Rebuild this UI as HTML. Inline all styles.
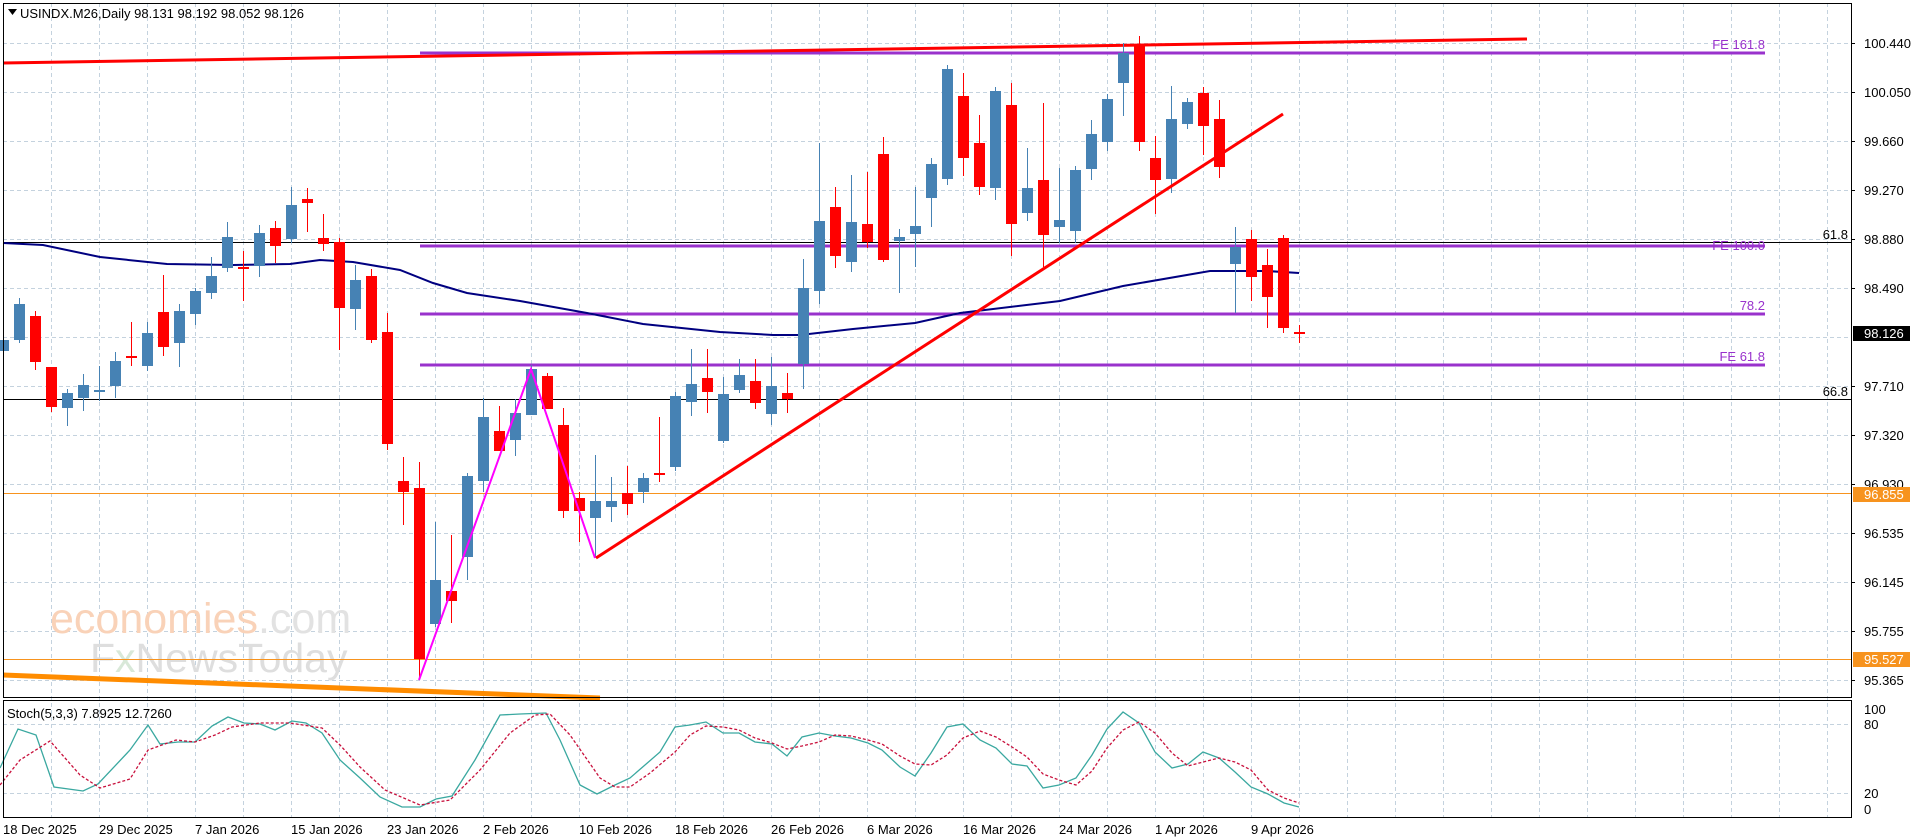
<!DOCTYPE html>
<html><head><meta charset="utf-8"><style>
html,body{margin:0;padding:0;background:#fff;width:1916px;height:840px;overflow:hidden}
svg{display:block;font-family:"Liberation Sans",sans-serif}
.B line{stroke:#4682b4}.B rect{fill:#4682b4}
.R line{stroke:#ff0000}.R rect{fill:#ff0000}
.g{stroke:#c4d2de;stroke-width:1;stroke-dasharray:4,3}
.ax{font-size:13px;fill:#000}
</style></head><body>
<svg width="1916" height="840" viewBox="0 0 1916 840" xmlns="http://www.w3.org/2000/svg">
<rect width="1916" height="840" fill="#fff"/>
<g class="g">
<line x1="3" x2="1851" y1="43.5" y2="43.5"/><line x1="3" x2="1851" y1="92.5" y2="92.5"/><line x1="3" x2="1851" y1="141.5" y2="141.5"/><line x1="3" x2="1851" y1="190.5" y2="190.5"/><line x1="3" x2="1851" y1="239.5" y2="239.5"/><line x1="3" x2="1851" y1="288.5" y2="288.5"/><line x1="3" x2="1851" y1="337.5" y2="337.5"/><line x1="3" x2="1851" y1="386.5" y2="386.5"/><line x1="3" x2="1851" y1="435.5" y2="435.5"/><line x1="3" x2="1851" y1="484.5" y2="484.5"/><line x1="3" x2="1851" y1="533.5" y2="533.5"/><line x1="3" x2="1851" y1="582.5" y2="582.5"/><line x1="3" x2="1851" y1="631.5" y2="631.5"/><line x1="3" x2="1851" y1="680.5" y2="680.5"/>
<line x1="3" x2="1851" y1="724.5" y2="724.5"/><line x1="3" x2="1851" y1="793.5" y2="793.5"/>
</g>
<g class="g">
<line x1="51.5" x2="51.5" y1="3" y2="817"/><line x1="99.5" x2="99.5" y1="3" y2="817"/><line x1="147.5" x2="147.5" y1="3" y2="817"/><line x1="195.5" x2="195.5" y1="3" y2="817"/><line x1="243.5" x2="243.5" y1="3" y2="817"/><line x1="291.5" x2="291.5" y1="3" y2="817"/><line x1="339.5" x2="339.5" y1="3" y2="817"/><line x1="387.5" x2="387.5" y1="3" y2="817"/><line x1="435.5" x2="435.5" y1="3" y2="817"/><line x1="483.5" x2="483.5" y1="3" y2="817"/><line x1="531.5" x2="531.5" y1="3" y2="817"/><line x1="579.5" x2="579.5" y1="3" y2="817"/><line x1="627.5" x2="627.5" y1="3" y2="817"/><line x1="675.5" x2="675.5" y1="3" y2="817"/><line x1="723.5" x2="723.5" y1="3" y2="817"/><line x1="771.5" x2="771.5" y1="3" y2="817"/><line x1="819.5" x2="819.5" y1="3" y2="817"/><line x1="867.5" x2="867.5" y1="3" y2="817"/><line x1="915.5" x2="915.5" y1="3" y2="817"/><line x1="963.5" x2="963.5" y1="3" y2="817"/><line x1="1011.5" x2="1011.5" y1="3" y2="817"/><line x1="1059.5" x2="1059.5" y1="3" y2="817"/><line x1="1107.5" x2="1107.5" y1="3" y2="817"/><line x1="1155.5" x2="1155.5" y1="3" y2="817"/><line x1="1203.5" x2="1203.5" y1="3" y2="817"/><line x1="1251.5" x2="1251.5" y1="3" y2="817"/><line x1="1299.5" x2="1299.5" y1="3" y2="817"/><line x1="1347.5" x2="1347.5" y1="3" y2="817"/><line x1="1395.5" x2="1395.5" y1="3" y2="817"/><line x1="1443.5" x2="1443.5" y1="3" y2="817"/><line x1="1491.5" x2="1491.5" y1="3" y2="817"/><line x1="1539.5" x2="1539.5" y1="3" y2="817"/><line x1="1587.5" x2="1587.5" y1="3" y2="817"/><line x1="1635.5" x2="1635.5" y1="3" y2="817"/><line x1="1683.5" x2="1683.5" y1="3" y2="817"/><line x1="1731.5" x2="1731.5" y1="3" y2="817"/><line x1="1779.5" x2="1779.5" y1="3" y2="817"/><line x1="1827.5" x2="1827.5" y1="3" y2="817"/>
</g>
<text x="50" y="633" font-size="43" fill="#f9d2b8">economies<tspan fill="#e2e2e2">.com</tspan></text>
<text x="90" y="672" font-size="41" fill="#dedede">F<tspan fill="#d8e8d8">x</tspan>NewsToday</text>
<line x1="3" x2="1851" y1="242.5" y2="242.5" stroke="#000" stroke-width="1"/>
<line x1="3" x2="1851" y1="399.5" y2="399.5" stroke="#000" stroke-width="1"/>
<line x1="3" x2="1851" y1="493.5" y2="493.5" stroke="#f7931e" stroke-width="1"/>
<line x1="3" x2="1851" y1="659.5" y2="659.5" stroke="#f7931e" stroke-width="1"/>
<g stroke="#9932cc" stroke-width="3">
<line x1="420" x2="1765" y1="53" y2="53"/><line x1="420" x2="1765" y1="246" y2="246"/><line x1="420" x2="1765" y1="314" y2="314"/><line x1="420" x2="1765" y1="365" y2="365"/>
</g>
<g font-size="13" fill="#9932cc" text-anchor="end">
<text x="1765" y="49">FE 161.8</text><text x="1765" y="250">FE 100.0</text><text x="1765" y="310">78.2</text><text x="1765" y="361">FE 61.8</text>
</g>
<g font-size="13" fill="#000" text-anchor="end"><text x="1848" y="239">61.8</text><text x="1848" y="396">66.8</text></g>
<line x1="3" y1="63" x2="1527" y2="39" stroke="#ff0000" stroke-width="3"/>
<line x1="3" y1="675" x2="600" y2="698" stroke="#ff8c00" stroke-width="5"/>
<polyline fill="none" stroke="#000080" stroke-width="2" points="3,243 43,245 100,257 167,264 233,265 290,264 320,260 353,262 400,270 433,283 467,293 520,301 587,313 643,324 720,332 773,335 800,335 853,329 915,323 960,313 1060,301 1123,286 1210,271 1267,271 1299,273"/>
<g class="B">
<line x1="3.5" x2="3.5" y1="323" y2="375"/><rect x="0" y="340" width="9" height="11"/>
<line x1="19.5" x2="19.5" y1="298" y2="343"/><rect x="14" y="304" width="11" height="36"/>
<line x1="67.5" x2="67.5" y1="389" y2="426"/><rect x="62" y="393" width="11" height="15"/>
<line x1="83.5" x2="83.5" y1="374" y2="411"/><rect x="78" y="385" width="11" height="13"/>
<line x1="99.5" x2="99.5" y1="366" y2="401"/><rect x="94" y="390" width="11" height="2"/>
<line x1="115.5" x2="115.5" y1="352" y2="398"/><rect x="110" y="361" width="11" height="25"/>
<line x1="147.5" x2="147.5" y1="322" y2="371"/><rect x="142" y="333" width="11" height="33"/>
<line x1="179.5" x2="179.5" y1="304" y2="367"/><rect x="174" y="311" width="11" height="32"/>
<line x1="195.5" x2="195.5" y1="288" y2="325"/><rect x="190" y="291" width="11" height="23"/>
<line x1="211.5" x2="211.5" y1="257" y2="299"/><rect x="206" y="276" width="11" height="17"/>
<line x1="227.5" x2="227.5" y1="222" y2="272"/><rect x="222" y="237" width="11" height="31"/>
<line x1="259.5" x2="259.5" y1="225" y2="277"/><rect x="254" y="233" width="11" height="33"/>
<line x1="291.5" x2="291.5" y1="187" y2="243"/><rect x="286" y="205" width="11" height="34"/>
<line x1="355.5" x2="355.5" y1="265" y2="330"/><rect x="350" y="280" width="11" height="29"/>
<line x1="435.5" x2="435.5" y1="522" y2="627"/><rect x="430" y="580" width="11" height="44"/>
<line x1="467.5" x2="467.5" y1="473" y2="580"/><rect x="462" y="476" width="11" height="81"/>
<line x1="483.5" x2="483.5" y1="398" y2="492"/><rect x="478" y="417" width="11" height="64"/>
<line x1="515.5" x2="515.5" y1="399" y2="456"/><rect x="510" y="413" width="11" height="27"/>
<line x1="531.5" x2="531.5" y1="365" y2="415"/><rect x="526" y="369" width="11" height="46"/>
<line x1="595.5" x2="595.5" y1="455" y2="558"/><rect x="590" y="501" width="11" height="17"/>
<line x1="611.5" x2="611.5" y1="477" y2="522"/><rect x="606" y="501" width="11" height="6"/>
<line x1="643.5" x2="643.5" y1="473" y2="503"/><rect x="638" y="478" width="11" height="14"/>
<line x1="675.5" x2="675.5" y1="392" y2="471"/><rect x="670" y="396" width="11" height="71"/>
<line x1="691.5" x2="691.5" y1="349" y2="416"/><rect x="686" y="384" width="11" height="18"/>
<line x1="723.5" x2="723.5" y1="377" y2="443"/><rect x="718" y="394" width="11" height="47"/>
<line x1="739.5" x2="739.5" y1="359" y2="393"/><rect x="734" y="375" width="11" height="15"/>
<line x1="771.5" x2="771.5" y1="357" y2="425"/><rect x="766" y="386" width="11" height="28"/>
<line x1="803.5" x2="803.5" y1="259" y2="389"/><rect x="798" y="288" width="11" height="76"/>
<line x1="819.5" x2="819.5" y1="143" y2="304"/><rect x="814" y="221" width="11" height="70"/>
<line x1="851.5" x2="851.5" y1="175" y2="272"/><rect x="846" y="222" width="11" height="40"/>
<line x1="899.5" x2="899.5" y1="229" y2="293"/><rect x="894" y="237" width="11" height="4"/>
<line x1="915.5" x2="915.5" y1="187" y2="267"/><rect x="910" y="226" width="11" height="8"/>
<line x1="931.5" x2="931.5" y1="158" y2="227"/><rect x="926" y="164" width="11" height="34"/>
<line x1="947.5" x2="947.5" y1="65" y2="185"/><rect x="942" y="69" width="11" height="110"/>
<line x1="995.5" x2="995.5" y1="87" y2="200"/><rect x="990" y="91" width="11" height="97"/>
<line x1="1027.5" x2="1027.5" y1="148" y2="221"/><rect x="1022" y="188" width="11" height="25"/>
<line x1="1059.5" x2="1059.5" y1="168" y2="243"/><rect x="1054" y="220" width="11" height="7"/>
<line x1="1075.5" x2="1075.5" y1="166" y2="243"/><rect x="1070" y="170" width="11" height="61"/>
<line x1="1091.5" x2="1091.5" y1="120" y2="180"/><rect x="1086" y="134" width="11" height="35"/>
<line x1="1107.5" x2="1107.5" y1="94" y2="151"/><rect x="1102" y="99" width="11" height="43"/>
<line x1="1123.5" x2="1123.5" y1="43" y2="116"/><rect x="1118" y="53" width="11" height="30"/>
<line x1="1171.5" x2="1171.5" y1="86" y2="193"/><rect x="1166" y="119" width="11" height="60"/>
<line x1="1187.5" x2="1187.5" y1="98" y2="129"/><rect x="1182" y="102" width="11" height="22"/>
<line x1="1235.5" x2="1235.5" y1="227" y2="313"/><rect x="1230" y="247" width="11" height="17"/>
</g>
<g class="R">
<line x1="35.5" x2="35.5" y1="311" y2="370"/><rect x="30" y="316" width="11" height="46"/>
<line x1="51.5" x2="51.5" y1="367" y2="412"/><rect x="46" y="367" width="11" height="40"/>
<line x1="131.5" x2="131.5" y1="322" y2="366"/><rect x="126" y="356" width="11" height="2"/>
<line x1="163.5" x2="163.5" y1="275" y2="356"/><rect x="158" y="312" width="11" height="35"/>
<line x1="243.5" x2="243.5" y1="251" y2="301"/><rect x="238" y="267" width="11" height="2"/>
<line x1="275.5" x2="275.5" y1="221" y2="263"/><rect x="270" y="228" width="11" height="18"/>
<line x1="307.5" x2="307.5" y1="188" y2="232"/><rect x="302" y="199" width="11" height="4"/>
<line x1="323.5" x2="323.5" y1="214" y2="251"/><rect x="318" y="238" width="11" height="6"/>
<line x1="339.5" x2="339.5" y1="238" y2="350"/><rect x="334" y="242" width="11" height="66"/>
<line x1="371.5" x2="371.5" y1="269" y2="343"/><rect x="366" y="276" width="11" height="64"/>
<line x1="387.5" x2="387.5" y1="313" y2="450"/><rect x="382" y="332" width="11" height="112"/>
<line x1="403.5" x2="403.5" y1="457" y2="525"/><rect x="398" y="481" width="11" height="11"/>
<line x1="419.5" x2="419.5" y1="462" y2="680"/><rect x="414" y="488" width="11" height="171"/>
<line x1="451.5" x2="451.5" y1="535" y2="623"/><rect x="446" y="591" width="11" height="10"/>
<line x1="499.5" x2="499.5" y1="406" y2="451"/><rect x="494" y="431" width="11" height="20"/>
<line x1="547.5" x2="547.5" y1="373" y2="409"/><rect x="542" y="376" width="11" height="33"/>
<line x1="563.5" x2="563.5" y1="408" y2="518"/><rect x="558" y="425" width="11" height="86"/>
<line x1="579.5" x2="579.5" y1="492" y2="542"/><rect x="574" y="498" width="11" height="13"/>
<line x1="627.5" x2="627.5" y1="466" y2="515"/><rect x="622" y="493" width="11" height="11"/>
<line x1="659.5" x2="659.5" y1="417" y2="482"/><rect x="654" y="473" width="11" height="2"/>
<line x1="707.5" x2="707.5" y1="349" y2="413"/><rect x="702" y="378" width="11" height="14"/>
<line x1="755.5" x2="755.5" y1="359" y2="409"/><rect x="750" y="381" width="11" height="22"/>
<line x1="787.5" x2="787.5" y1="373" y2="413"/><rect x="782" y="393" width="11" height="6"/>
<line x1="835.5" x2="835.5" y1="187" y2="268"/><rect x="830" y="207" width="11" height="49"/>
<line x1="867.5" x2="867.5" y1="172" y2="248"/><rect x="862" y="224" width="11" height="18"/>
<line x1="883.5" x2="883.5" y1="137" y2="262"/><rect x="878" y="154" width="11" height="106"/>
<line x1="963.5" x2="963.5" y1="73" y2="176"/><rect x="958" y="96" width="11" height="62"/>
<line x1="979.5" x2="979.5" y1="115" y2="195"/><rect x="974" y="143" width="11" height="44"/>
<line x1="1011.5" x2="1011.5" y1="83" y2="256"/><rect x="1006" y="105" width="11" height="119"/>
<line x1="1043.5" x2="1043.5" y1="103" y2="267"/><rect x="1038" y="180" width="11" height="55"/>
<line x1="1139.5" x2="1139.5" y1="36" y2="151"/><rect x="1134" y="45" width="11" height="97"/>
<line x1="1155.5" x2="1155.5" y1="136" y2="214"/><rect x="1150" y="158" width="11" height="22"/>
<line x1="1203.5" x2="1203.5" y1="87" y2="155"/><rect x="1198" y="93" width="11" height="33"/>
<line x1="1219.5" x2="1219.5" y1="100" y2="178"/><rect x="1214" y="119" width="11" height="48"/>
<line x1="1251.5" x2="1251.5" y1="230" y2="301"/><rect x="1246" y="239" width="11" height="38"/>
<line x1="1267.5" x2="1267.5" y1="249" y2="328"/><rect x="1262" y="265" width="11" height="32"/>
<line x1="1283.5" x2="1283.5" y1="235" y2="333"/><rect x="1278" y="238" width="11" height="90"/>
<line x1="1299.5" x2="1299.5" y1="325" y2="343"/><rect x="1294" y="332" width="11" height="2"/>
</g>
<line x1="596" y1="558" x2="1283" y2="114" stroke="#ff0000" stroke-width="3"/>
<polyline fill="none" stroke="#ff00ff" stroke-width="2" points="419,680 531,369 595,558"/>
<polyline fill="none" stroke="#3aa8a0" stroke-width="1.3" points="0,768 18,729 36,735 54,787 83,791 98,784 130,750 148,725 160,744 178,742 195,742 212,726 228,717 244,723 260,724 275,730 292,721 306,723 322,733 340,760 360,778 380,797 402,807 420,807 436,799 452,796 475,760 500,715 520,714 546,713 560,740 580,785 597,794 615,785 630,778 660,752 675,727 690,725 706,722 723,733 739,733 755,742 772,744 787,756 802,737 819,733 835,736 851,738 868,743 882,750 900,767 915,776 931,753 947,727 963,724 980,740 996,748 1012,764 1027,766 1043,788 1059,785 1076,778 1092,755 1107,729 1123,712 1139,723 1155,752 1172,768 1188,764 1203,752 1219,758 1235,772 1251,787 1268,794 1284,803 1299,807"/>
<polyline fill="none" stroke="#c8103c" stroke-width="1.3" stroke-dasharray="3,2" points="0,785 20,760 50,741 80,775 100,788 130,779 148,750 176,740 195,742 215,735 232,727 260,723 290,723 322,728 340,745 360,767 385,790 420,805 450,800 480,770 510,733 535,715 550,714 570,735 600,778 615,787 630,787 650,773 675,752 690,735 706,726 723,727 739,730 755,738 772,743 787,749 802,746 819,742 835,735 851,736 868,740 882,744 900,756 915,764 931,765 947,755 963,738 980,731 996,737 1012,747 1027,757 1043,774 1059,780 1076,785 1092,771 1107,748 1123,730 1139,722 1155,733 1172,753 1188,766 1203,762 1219,758 1235,762 1251,770 1268,790 1284,798 1299,803"/>
<rect x="3.5" y="3.5" width="1848" height="694" fill="none" stroke="#000" stroke-width="1"/>
<rect x="3.5" y="700.5" width="1848" height="117" fill="none" stroke="#000" stroke-width="1"/>
<polygon points="8,9 17,9 12.5,15" fill="#000"/>
<text x="20" y="18" font-size="13" fill="#000">USINDX.M26,Daily  98.131 98.192 98.052 98.126</text>
<text x="7" y="718" font-size="13" fill="#000">Stoch(5,3,3) 7.8925 12.7260</text>
<g stroke="#000"><line x1="1851" x2="1855" y1="43.5" y2="43.5"/><line x1="1851" x2="1855" y1="92.5" y2="92.5"/><line x1="1851" x2="1855" y1="141.5" y2="141.5"/><line x1="1851" x2="1855" y1="190.5" y2="190.5"/><line x1="1851" x2="1855" y1="239.5" y2="239.5"/><line x1="1851" x2="1855" y1="288.5" y2="288.5"/><line x1="1851" x2="1855" y1="386.5" y2="386.5"/><line x1="1851" x2="1855" y1="435.5" y2="435.5"/><line x1="1851" x2="1855" y1="484.5" y2="484.5"/><line x1="1851" x2="1855" y1="533.5" y2="533.5"/><line x1="1851" x2="1855" y1="582.5" y2="582.5"/><line x1="1851" x2="1855" y1="631.5" y2="631.5"/><line x1="1851" x2="1855" y1="680.5" y2="680.5"/></g>
<g class="ax">
<text x="1864" y="48">100.440</text><text x="1864" y="97">100.050</text><text x="1864" y="146">99.660</text><text x="1864" y="195">99.270</text><text x="1864" y="244">98.880</text><text x="1864" y="293">98.490</text><text x="1864" y="391">97.710</text><text x="1864" y="440">97.320</text><text x="1864" y="489">96.930</text><text x="1864" y="538">96.535</text><text x="1864" y="587">96.145</text><text x="1864" y="636">95.755</text><text x="1864" y="685">95.365</text>
<text x="1864" y="714">100</text><text x="1864" y="729">80</text><text x="1864" y="798">20</text><text x="1864" y="814">0</text>
</g>
<rect x="1853" y="326" width="57" height="15" fill="#000"/><text x="1864" y="338" font-size="13" fill="#fff">98.126</text>
<rect x="1853" y="487" width="57" height="15" fill="#f7931e"/><text x="1864" y="499" font-size="13" fill="#fff">96.855</text>
<rect x="1853" y="652" width="57" height="15" fill="#f7931e"/><text x="1864" y="664" font-size="13" fill="#fff">95.527</text>
<g class="ax">
<text x="3" y="834">18 Dec 2025</text><text x="99" y="834">29 Dec 2025</text><text x="195" y="834">7 Jan 2026</text><text x="291" y="834">15 Jan 2026</text><text x="387" y="834">23 Jan 2026</text><text x="483" y="834">2 Feb 2026</text><text x="579" y="834">10 Feb 2026</text><text x="675" y="834">18 Feb 2026</text><text x="771" y="834">26 Feb 2026</text><text x="867" y="834">6 Mar 2026</text><text x="963" y="834">16 Mar 2026</text><text x="1059" y="834">24 Mar 2026</text><text x="1155" y="834">1 Apr 2026</text><text x="1251" y="834">9 Apr 2026</text>
</g>
</svg>
</body></html>
